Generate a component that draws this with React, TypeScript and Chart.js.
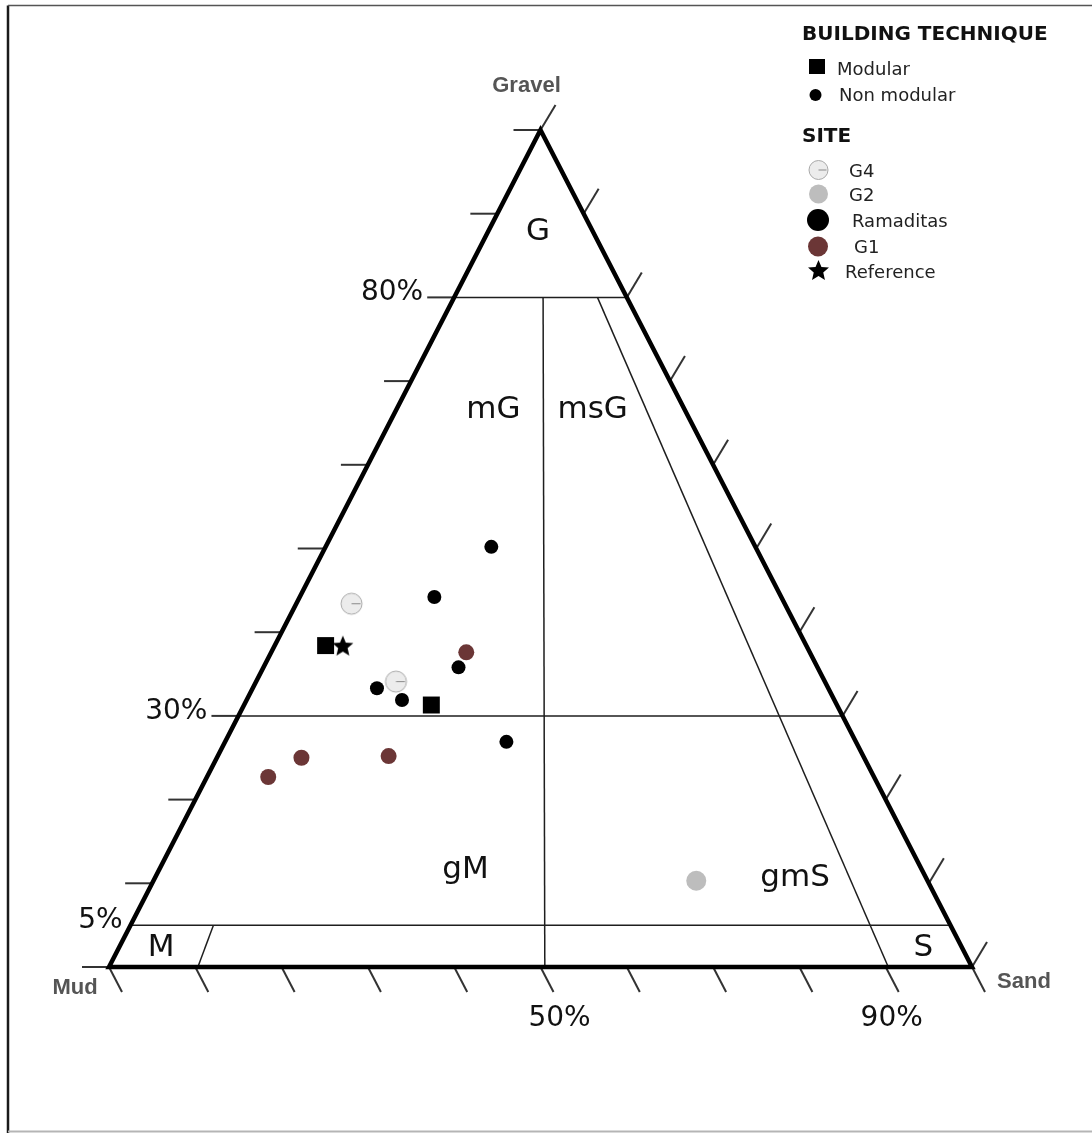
import React, { useEffect, useRef } from 'react';
import { Chart, registerables } from 'chart.js';

Chart.register(...registerables);

// ---- Data: compositions in percent (gravel, sand; mud = remainder) ----
const ramaditasGravel = [50.2, 44.2, 35.8, 33.3, 31.9, 26.9];
const ramaditasSand = [19.2, 15.6, 22.6, 14.4, 18.0, 32.6];
const modularGravel = [38.4, 31.3];
const modularSand = [5.9, 21.7];
const g4Gravel = [43.4, 34.1];
const g4Sand = [6.4, 16.2];
const g1Gravel = [37.6, 25.0, 25.2, 22.7];
const g1Sand = [22.6, 9.8, 19.8, 7.1];
const g2Gravel = [10.3];
const g2Sand = [62.9];
const referenceGravel = [38.4];
const referenceSand = [7.9];

// ---- Axis / class boundaries ----
const axisTicks = [0, 10, 20, 30, 40, 50, 60, 70, 80, 90, 100];
const gravelBoundaries = [80, 30, 5];
const gravelBoundaryLabels = ['80%', '30%', '5%'];
const sandRatioLabelValues = [50, 90];
const sandRatioLabels = ['50%', '90%'];
// divider lines: gravel at top, sand at top, sand at bottom (gravel 0)
const dividerTopGravel = [80, 80, 5];
const dividerTopSand = [10.3, 16.6, 9.6];
const dividerBottomSand = [50.5, 90.3, 10.3];
// field names and their anchor compositions
const fieldNames = ['G', 'mG', 'msG', 'gM', 'gmS', 'M', 'S'];
const fieldGravel = [87.8, 66.5, 66.5, 11.6, 10.6, 2.3, 2.3];
const fieldSand = [5.8, 11.3, 22.8, 35.5, 74.2, 4.9, 93.2];

const vertexNames = ['Gravel', 'Mud', 'Sand'];
const techniqueLegend = ['Modular', 'Non modular'];
const siteLegend = ['G4', 'G2', 'Ramaditas', 'G1', 'Reference'];

const BROWN = '#6b3636';
const GREY2 = '#bdbdbd';

function toXY(g: number[], s: number[]) {
  return g.map((gv, i) => ({ x: s[i] / 100 + gv / 200, y: gv / 100 }));
}

function starPath(ctx: CanvasRenderingContext2D, cx: number, cy: number, R: number, r: number) {
  ctx.beginPath();
  for (let i = 0; i < 10; i++) {
    const rad = i % 2 === 0 ? R : r;
    const a = -Math.PI / 2 + (i * Math.PI) / 5;
    const x = cx + rad * Math.cos(a);
    const y = cy + rad * Math.sin(a);
    if (i === 0) ctx.moveTo(x, y);
    else ctx.lineTo(x, y);
  }
  ctx.closePath();
}

function drawG4Icon(ctx: CanvasRenderingContext2D, cx: number, cy: number, r: number) {
  ctx.save();
  ctx.beginPath();
  ctx.arc(cx, cy, r, 0, Math.PI * 2);
  ctx.fillStyle = '#ececec';
  ctx.fill();
  ctx.lineWidth = 1;
  ctx.strokeStyle = '#a8a8a8';
  ctx.stroke();
  ctx.beginPath();
  ctx.moveTo(cx, cy);
  ctx.lineTo(cx + r - 1.5, cy);
  ctx.strokeStyle = '#8a8a8a';
  ctx.stroke();
  ctx.restore();
}

function makeG4Image(r: number) {
  const c = document.createElement('canvas');
  const size = Math.ceil(r * 2 + 4);
  c.width = size;
  c.height = size;
  const ctx = c.getContext('2d')!;
  drawG4Icon(ctx, size / 2, size / 2, r);
  return c;
}

function makeStarImage(R: number) {
  const c = document.createElement('canvas');
  const size = Math.ceil(R * 2 + 2);
  c.width = size;
  c.height = size;
  const ctx = c.getContext('2d')!;
  starPath(ctx, size / 2, size / 2 + 1, R, R * 0.45);
  ctx.fillStyle = '#000';
  ctx.fill();
  return c;
}

const ternaryPlugin = {
  id: 'ternary',
  beforeDatasetsDraw(chart: any) {
    const ctx: CanvasRenderingContext2D = chart.ctx;
    const xs = chart.scales.x;
    const ys = chart.scales.y;
    const P = (g: number, s: number) => [
      xs.getPixelForValue(s / 100 + g / 200),
      ys.getPixelForValue(g / 100),
    ];
    ctx.save();

    // outer frame
    ctx.lineWidth = 2.5;
    ctx.strokeStyle = '#1a1a1a';
    ctx.beginPath();
    ctx.moveTo(8, 1133);
    ctx.lineTo(8, 5.5);
    ctx.stroke();
    ctx.lineWidth = 1.5;
    ctx.strokeStyle = '#555';
    ctx.beginPath();
    ctx.moveTo(8, 5.5);
    ctx.lineTo(1092, 5.5);
    ctx.stroke();
    ctx.lineWidth = 2;
    ctx.strokeStyle = '#b5b5b5';
    ctx.beginPath();
    ctx.moveTo(8, 1131.5);
    ctx.lineTo(1092, 1131.5);
    ctx.stroke();

    // ticks
    ctx.lineWidth = 2;
    ctx.strokeStyle = '#333';
    axisTicks.forEach((t) => {
      let [x, y] = P(t, 0);
      ctx.beginPath();
      ctx.moveTo(x, y);
      ctx.lineTo(x - 27, y);
      ctx.stroke();
      [x, y] = P(t, 100 - t);
      ctx.beginPath();
      ctx.moveTo(x, y);
      ctx.lineTo(x + 15, y - 25);
      ctx.stroke();
      [x, y] = P(0, t);
      ctx.beginPath();
      ctx.moveTo(x, y);
      ctx.lineTo(x + 13, y + 25);
      ctx.stroke();
    });

    // class boundary lines
    ctx.lineWidth = 1.5;
    ctx.strokeStyle = '#1e1e1e';
    gravelBoundaries.forEach((g) => {
      const [x1, y1] = P(g, 0);
      const [x2, y2] = P(g, 100 - g);
      ctx.beginPath();
      ctx.moveTo(x1, y1);
      ctx.lineTo(x2, y2);
      ctx.stroke();
    });
    dividerTopGravel.forEach((g, i) => {
      const [x1, y1] = P(g, dividerTopSand[i]);
      const [x2, y2] = P(0, dividerBottomSand[i]);
      ctx.beginPath();
      ctx.moveTo(x1, y1);
      ctx.lineTo(x2, y2);
      ctx.stroke();
    });

    // triangle
    ctx.lineWidth = 4.5;
    ctx.strokeStyle = '#000';
    ctx.lineJoin = 'miter';
    const A = P(100, 0);
    const B = P(0, 100);
    const C = P(0, 0);
    ctx.beginPath();
    ctx.moveTo(A[0], A[1]);
    ctx.lineTo(B[0], B[1]);
    ctx.lineTo(C[0], C[1]);
    ctx.closePath();
    ctx.stroke();

    // gravel boundary labels
    ctx.fillStyle = '#111';
    ctx.font = '28px "DejaVu Sans", sans-serif';
    ctx.textAlign = 'right';
    ctx.textBaseline = 'alphabetic';
    gravelBoundaries.forEach((g, i) => {
      const [x, y] = P(g, 0);
      const gap = g % 10 === 0 ? 31 : 8;
      ctx.fillText(gravelBoundaryLabels[i], x - gap, y + 3);
    });
    ctx.textAlign = 'center';
    const bottomLabelShift = [19, 6];
    sandRatioLabelValues.forEach((s, i) => {
      const [x, y] = P(0, s);
      ctx.fillText(sandRatioLabels[i], x + bottomLabelShift[i], y + 59);
    });

    // field labels
    ctx.font = '31px "DejaVu Sans", sans-serif';
    ctx.textBaseline = 'middle';
    fieldNames.forEach((n, i) => {
      const [x, y] = P(fieldGravel[i], fieldSand[i]);
      ctx.fillText(n, x, y);
    });

    // vertex labels
    ctx.font = 'bold 22px "Liberation Sans", Arial, sans-serif';
    ctx.fillStyle = '#555';
    ctx.fillText(vertexNames[0], A[0] - 14, A[1] - 44);
    ctx.fillText(vertexNames[1], C[0] - 34, C[1] + 21);
    ctx.fillText(vertexNames[2], B[0] + 52, B[1] + 15);

    ctx.restore();
  },
  afterDraw(chart: any) {
    const ctx: CanvasRenderingContext2D = chart.ctx;
    ctx.save();
    ctx.textAlign = 'left';
    ctx.textBaseline = 'alphabetic';
    ctx.fillStyle = '#111';
    ctx.font = 'bold 20px "DejaVu Sans", sans-serif';
    ctx.fillText('BUILDING TECHNIQUE', 802, 40);
    ctx.fillText('SITE', 802, 142);

    ctx.font = '18px "DejaVu Sans", sans-serif';
    ctx.fillStyle = '#000';
    ctx.fillRect(809, 59, 16, 15);
    ctx.fillStyle = '#222';
    ctx.fillText(techniqueLegend[0], 837, 75);
    ctx.beginPath();
    ctx.arc(815.5, 95, 6, 0, Math.PI * 2);
    ctx.fillStyle = '#000';
    ctx.fill();
    ctx.fillStyle = '#222';
    ctx.fillText(techniqueLegend[1], 839, 101);

    drawG4Icon(ctx, 818.5, 170, 9.5);
    ctx.fillStyle = '#222';
    ctx.fillText(siteLegend[0], 849, 177);

    ctx.beginPath();
    ctx.arc(818.5, 194, 9.5, 0, Math.PI * 2);
    ctx.fillStyle = GREY2;
    ctx.fill();
    ctx.fillStyle = '#222';
    ctx.fillText(siteLegend[1], 849, 201);

    ctx.beginPath();
    ctx.arc(818, 220, 11, 0, Math.PI * 2);
    ctx.fillStyle = '#000';
    ctx.fill();
    ctx.fillStyle = '#222';
    ctx.fillText(siteLegend[2], 852, 227);

    ctx.beginPath();
    ctx.arc(818, 246.5, 10, 0, Math.PI * 2);
    ctx.fillStyle = BROWN;
    ctx.fill();
    ctx.fillStyle = '#222';
    ctx.fillText(siteLegend[3], 854, 253);

    starPath(ctx, 818.5, 271, 11, 5);
    ctx.fillStyle = '#000';
    ctx.fill();
    ctx.fillStyle = '#222';
    ctx.fillText(siteLegend[4], 845, 278);

    ctx.restore();
  },
};

export default function App() {
  const canvasRef = useRef<HTMLCanvasElement | null>(null);

  useEffect(() => {
    const canvas = canvasRef.current;
    if (!canvas) return;
    const g4Img = makeG4Image(10.5);
    const starImg = makeStarImage(11);
    const chart = new Chart(canvas, {
      type: 'scatter',
      data: {
        datasets: [
          {
            label: 'G1',
            data: toXY(g1Gravel, g1Sand),
            pointStyle: 'circle',
            pointRadius: 8,
            pointBackgroundColor: BROWN,
            pointBorderWidth: 0,
            clip: false,
          } as any,
          {
            label: 'G2',
            data: toXY(g2Gravel, g2Sand),
            pointStyle: 'circle',
            pointRadius: 10,
            pointBackgroundColor: GREY2,
            pointBorderWidth: 0,
            clip: false,
          } as any,
          {
            label: 'G4',
            data: toXY(g4Gravel, g4Sand),
            pointStyle: g4Img,
            clip: false,
          } as any,
          {
            label: 'Ramaditas (non modular)',
            data: toXY(ramaditasGravel, ramaditasSand),
            pointStyle: 'circle',
            pointRadius: 7,
            pointBackgroundColor: '#000',
            pointBorderWidth: 0,
            clip: false,
          } as any,
          {
            label: 'Modular',
            data: toXY(modularGravel, modularSand),
            pointStyle: 'rect',
            pointRadius: 12,
            pointBackgroundColor: '#000',
            pointBorderWidth: 0,
            clip: false,
          } as any,
          {
            label: 'Reference',
            data: toXY(referenceGravel, referenceSand),
            pointStyle: starImg,
            clip: false,
          } as any,
        ],
      },
      options: {
        responsive: false,
        animation: false,
        events: [],
        layout: { padding: { left: 109, right: 120, top: 130, bottom: 166 } },
        scales: {
          x: { type: 'linear', min: 0, max: 1, display: false },
          y: { type: 'linear', min: 0, max: 1, display: false },
        },
        plugins: {
          legend: { display: false },
          tooltip: { enabled: false },
          title: { display: false },
        },
      },
      plugins: [ternaryPlugin],
    });
    return () => chart.destroy();
  }, []);

  return (
    <div style={{ position: 'fixed', left: 0, top: 0, width: 1092, height: 1133, background: '#fff' }}>
      <canvas ref={canvasRef} width={1092} height={1133} style={{ display: 'block' }} />
    </div>
  );
}
